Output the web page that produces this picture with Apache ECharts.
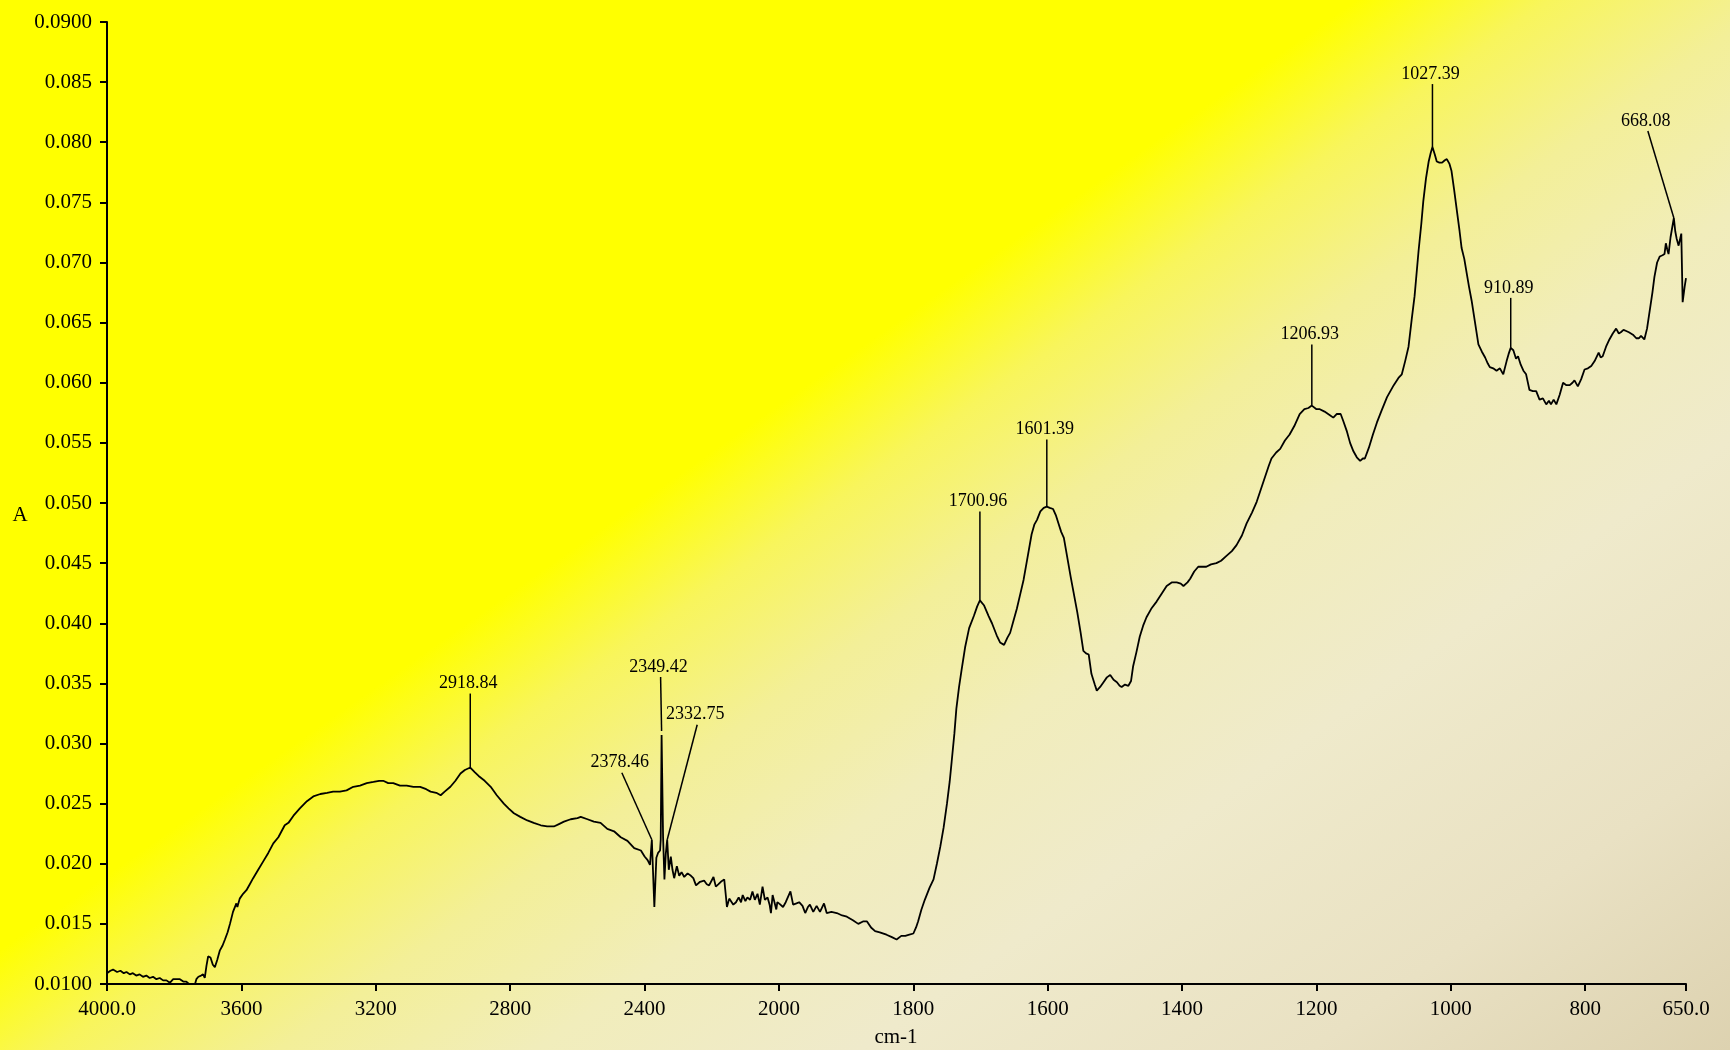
<!DOCTYPE html>
<html>
<head>
<meta charset="utf-8">
<title>FTIR spectrum</title>
<script src="https://cdn.jsdelivr.net/npm/echarts@6.0.0/dist/echarts.min.js"></script>
<style>
  html, body { margin: 0; padding: 0; }
  #chart {
    width: 1730px;
    height: 1050px;
    background: linear-gradient(145deg, #ffff00 0%, #ffff00 42%, #f8f55c 48%, #f3ef98 55%,
                #f1edbb 63%, #efeacb 73%, #e9e1c3 87%, #ddd2b0 100%);
  }
</style>
</head>
<body>
<div id="chart"></div>
<script>
// Absorbance spectrum, 4000-2000 cm-1 (compressed part of the axis)
const wavenumbersHigh = [
  4000, 3990, 3982, 3970, 3960, 3950, 3942, 3932, 3923, 3913,
  3903, 3893, 3883, 3873, 3863, 3853, 3843, 3833, 3823, 3813,
  3803, 3793, 3783, 3773, 3764, 3756, 3748, 3740, 3734, 3728,
  3720, 3714, 3709, 3704, 3699, 3692, 3685, 3679, 3672, 3664,
  3656, 3649, 3641, 3634, 3625, 3615, 3612, 3605, 3595, 3585,
  3575, 3565, 3550, 3535, 3520, 3505, 3490, 3471, 3460, 3445,
  3426, 3405, 3386, 3365, 3345, 3327, 3307, 3287, 3267, 3247,
  3227, 3207, 3190, 3178, 3163, 3148, 3128, 3108, 3088, 3068,
  3050, 3037, 3020, 3007, 2995, 2978, 2963, 2948, 2935, 2918.84,
  2905, 2894, 2876, 2858, 2840, 2819, 2805, 2789, 2770, 2749,
  2730, 2709, 2690, 2670, 2655, 2640, 2620, 2600, 2590, 2570,
  2551, 2531, 2511, 2491, 2471, 2451, 2431, 2411, 2400, 2391,
  2384, 2378.46, 2376, 2371, 2365, 2360, 2354, 2352, 2349.42, 2345,
  2341, 2337, 2332.75, 2328, 2322, 2317, 2312, 2304, 2297, 2290,
  2282, 2272, 2262, 2255, 2247, 2235, 2223, 2215, 2208, 2195,
  2188, 2180, 2173, 2163, 2158, 2155, 2148, 2143, 2136, 2128,
  2120, 2113, 2108, 2100, 2094, 2086, 2079, 2072, 2064, 2057,
  2049, 2042, 2034, 2028, 2024, 2019, 2014, 2008, 2005, 2000
];
const absorbanceHigh = [
  0.0109, 0.0111, 0.0112, 0.0110, 0.0111, 0.0109, 0.0110, 0.0108, 0.0109, 0.0107,
  0.0108, 0.0106, 0.0107, 0.0105, 0.0106, 0.0104, 0.0105, 0.0103, 0.0103, 0.0101,
  0.0104, 0.0104, 0.0104, 0.0102, 0.0102, 0.0100, 0.0097, 0.0098, 0.0104, 0.0106,
  0.0107, 0.0108, 0.0105, 0.0115, 0.0123, 0.0122, 0.0116, 0.0114, 0.0120, 0.0128,
  0.0132, 0.0137, 0.0143, 0.0150, 0.0160, 0.0167, 0.0164, 0.0171, 0.0175, 0.0178,
  0.0183, 0.0188, 0.0195, 0.0202, 0.0209, 0.0217, 0.0222, 0.0232, 0.0234, 0.0240,
  0.0246, 0.0252, 0.0256, 0.0258, 0.0259, 0.0260, 0.0260, 0.0261, 0.0264, 0.0265,
  0.0267, 0.0268, 0.0269, 0.0269, 0.0267, 0.0267, 0.0265, 0.0265, 0.0264, 0.0264,
  0.0262, 0.0260, 0.0259, 0.0257, 0.0260, 0.0264, 0.0269, 0.0275, 0.0278, 0.0280,
  0.0276, 0.0273, 0.0269, 0.0264, 0.0257, 0.0250, 0.0246, 0.0242, 0.0239, 0.0236,
  0.0234, 0.0232, 0.0231, 0.0231, 0.0233, 0.0235, 0.0237, 0.0238, 0.0239, 0.0237,
  0.0235, 0.0234, 0.0229, 0.0227, 0.0222, 0.0219, 0.0213, 0.0211, 0.0206, 0.0203,
  0.0199, 0.0220, 0.0219, 0.0164, 0.0205, 0.0209, 0.0211, 0.0220, 0.0307, 0.0222,
  0.0187, 0.0208, 0.0220, 0.0195, 0.0206, 0.0195, 0.0188, 0.0198, 0.0190, 0.0193,
  0.0189, 0.0192, 0.0190, 0.0188, 0.0182, 0.0185, 0.0186, 0.0183, 0.0182, 0.0189,
  0.0181, 0.0183, 0.0185, 0.0187, 0.0173, 0.0164, 0.0171, 0.0171, 0.0166, 0.0168,
  0.0172, 0.0168, 0.0174, 0.0169, 0.0172, 0.0170, 0.0177, 0.0170, 0.0175, 0.0166,
  0.0181, 0.0170, 0.0172, 0.0166, 0.0159, 0.0174, 0.0175, 0.0162, 0.0168, 0.0167
];

// Absorbance spectrum, 2000-650 cm-1 (expanded part of the axis)
const wavenumbersLow = [
  2000, 1994, 1990, 1983, 1979, 1974, 1970, 1965, 1961, 1957,
  1954, 1949, 1944, 1939, 1933, 1929, 1922, 1914, 1906, 1899,
  1890, 1882, 1875, 1869, 1863, 1857, 1850, 1840, 1832, 1825,
  1818, 1812, 1806, 1800, 1796, 1793, 1788, 1783, 1776, 1770,
  1765, 1760, 1755, 1750, 1746, 1743, 1739, 1736, 1732, 1728,
  1723, 1717, 1710, 1705, 1700.96, 1695, 1688, 1683, 1676, 1671,
  1665, 1660, 1656, 1651, 1646, 1641, 1636, 1630, 1624, 1620,
  1616, 1611, 1606, 1601.39, 1597, 1592, 1588, 1584, 1580, 1576,
  1571, 1566, 1561, 1556, 1551, 1547, 1543, 1539, 1535, 1530,
  1527, 1522, 1517, 1512, 1507, 1502, 1497, 1493, 1490, 1485,
  1480, 1476, 1473, 1468, 1463, 1458, 1453, 1446, 1438, 1430,
  1423, 1415, 1408, 1402, 1398, 1392, 1388, 1382, 1376, 1370,
  1364, 1357, 1349, 1342, 1334, 1326, 1319, 1311, 1304, 1296,
  1289, 1283, 1277, 1271, 1267, 1260, 1254, 1247, 1240, 1233,
  1225, 1218, 1212, 1206.93, 1200, 1195, 1188, 1180, 1175, 1170,
  1164, 1160, 1155, 1150, 1145, 1140, 1135, 1131, 1128, 1122,
  1116, 1110, 1103, 1095, 1085, 1078, 1073, 1068, 1063, 1058,
  1054, 1048, 1044, 1041, 1037, 1033, 1030, 1027.39, 1024, 1021,
  1017, 1013, 1009, 1006, 1002, 999, 995, 991, 987, 984,
  980, 977, 973, 969, 964, 959, 954, 949, 945, 942,
  937, 932, 927, 922, 917, 914, 910.89, 907, 903, 900,
  896, 892, 888, 883, 878, 873, 868, 863, 858, 854,
  851, 847, 843, 838, 833, 828, 823, 819, 816, 811,
  806, 801, 796, 791, 786, 780, 777, 774, 769, 764,
  759, 754, 750, 747, 743, 739, 735, 729, 724, 720,
  717, 712, 708, 704, 700, 697, 693, 689, 685, 682,
  680, 678, 676, 673, 671, 668.08, 666, 664, 661, 659,
  657, 655, 652, 650
];
const absorbanceLow = [
  0.0167, 0.0164, 0.0168, 0.0177, 0.0166, 0.0167, 0.0168, 0.0165, 0.0159, 0.0164,
  0.0166, 0.0160, 0.0165, 0.0160, 0.0167, 0.0159, 0.0160, 0.0159, 0.0157, 0.0156,
  0.0153, 0.0150, 0.0152, 0.0152, 0.0147, 0.0144, 0.0143, 0.0141, 0.0139, 0.0137,
  0.0140, 0.0140, 0.0141, 0.0142, 0.0147, 0.0152, 0.0162, 0.0170, 0.0180, 0.0187,
  0.0200, 0.0214, 0.0230, 0.0250, 0.0268, 0.0285, 0.0308, 0.0329, 0.0347, 0.0362,
  0.0380, 0.0396, 0.0406, 0.0414, 0.0419, 0.0415, 0.0406, 0.0400, 0.0390, 0.0384,
  0.0382, 0.0388, 0.0392, 0.0402, 0.0412, 0.0424, 0.0436, 0.0455, 0.0474, 0.0482,
  0.0486, 0.0493, 0.0496, 0.0497, 0.0496, 0.0495, 0.0490, 0.0483, 0.0476, 0.0471,
  0.0455, 0.0439, 0.0424, 0.0409, 0.0392, 0.0377, 0.0375, 0.0374, 0.0358, 0.0349,
  0.0344, 0.0347, 0.0351, 0.0355, 0.0357, 0.0353, 0.0351, 0.0348, 0.0347, 0.0349,
  0.0348, 0.0352, 0.0364, 0.0376, 0.0389, 0.0398, 0.0405, 0.0412, 0.0418, 0.0425,
  0.0431, 0.0434, 0.0434, 0.0433, 0.0431, 0.0434, 0.0437, 0.0443, 0.0447, 0.0447,
  0.0447, 0.0449, 0.0450, 0.0452, 0.0456, 0.0460, 0.0465, 0.0473, 0.0483, 0.0492,
  0.0501, 0.0511, 0.0521, 0.0531, 0.0537, 0.0542, 0.0545, 0.0552, 0.0557, 0.0564,
  0.0574, 0.0578, 0.0579, 0.0581, 0.0578, 0.0578, 0.0576, 0.0573, 0.0571, 0.0574,
  0.0574, 0.0568, 0.0560, 0.0550, 0.0543, 0.0538, 0.0535, 0.0537, 0.0537, 0.0546,
  0.0557, 0.0567, 0.0577, 0.0588, 0.0598, 0.0604, 0.0607, 0.0618, 0.0630, 0.0654,
  0.0672, 0.0710, 0.0732, 0.0751, 0.0770, 0.0784, 0.0791, 0.0796, 0.0790, 0.0784,
  0.0783, 0.0783, 0.0785, 0.0786, 0.0782, 0.0776, 0.0760, 0.0743, 0.0726, 0.0712,
  0.0703, 0.0693, 0.0680, 0.0668, 0.0650, 0.0632, 0.0626, 0.0621, 0.0616, 0.0613,
  0.0612, 0.0610, 0.0612, 0.0607, 0.0618, 0.0624, 0.0629, 0.0627, 0.0620, 0.0622,
  0.0615, 0.0610, 0.0607, 0.0594, 0.0593, 0.0593, 0.0586, 0.0587, 0.0582, 0.0585,
  0.0582, 0.0586, 0.0582, 0.0590, 0.0600, 0.0598, 0.0598, 0.0600, 0.0602, 0.0597,
  0.0603, 0.0611, 0.0612, 0.0614, 0.0618, 0.0625, 0.0621, 0.0622, 0.0630, 0.0636,
  0.0641, 0.0645, 0.0641, 0.0642, 0.0644, 0.0643, 0.0642, 0.0640, 0.0637, 0.0637,
  0.0639, 0.0636, 0.0645, 0.0660, 0.0675, 0.0688, 0.0700, 0.0705, 0.0706, 0.0707,
  0.0716, 0.0711, 0.0707, 0.0721, 0.0720, 0.0737, 0.0726, 0.0720, 0.0714, 0.0713,
  0.0724, 0.0667, 0.0680, 0.0687
];

// Picked peaks (cm-1)
const peakWavenumbers = [2918.84, 2378.46, 2349.42, 2332.75, 1700.96, 1601.39, 1206.93, 1027.39, 910.89, 668.08];

// Axis tick values
const xTicksLow = [1800, 1600, 1400, 1200, 1000, 800, 650];

// Leader-line geometry for each peak label, in pixels from the peak point
const leaderOffsets = [
  { dx: 0,   dy: -74 },
  { dx: -30, dy: -67 },
  { dx: -1,  dy: -58, gap: 4 },
  { dx: 30,  dy: -115 },
  { dx: 0,   dy: -89 },
  { dx: 0,   dy: -67 },
  { dx: 0,   dy: -61 },
  { dx: 0,   dy: -63 },
  { dx: 0,   dy: -50 },
  { dx: -26, dy: -87 }
];

const FONT = '"Liberation Serif", "Times New Roman", serif';
const INK = '#000';

const highData = wavenumbersHigh.map((w, i) => [w, absorbanceHigh[i]]);
const lowData = wavenumbersLow.map((w, i) => [w, absorbanceLow[i]]);

function absorbanceAt(w) {
  let i = wavenumbersHigh.indexOf(w);
  if (i >= 0) return absorbanceHigh[i];
  i = wavenumbersLow.indexOf(w);
  return absorbanceLow[i];
}

const peakHigh = [], peakLow = [];
peakWavenumbers.forEach((w, k) => {
  const item = [w, absorbanceAt(w), k];
  (w > 2000 ? peakHigh : peakLow).push(item);
});

function renderPeak(params, api) {
  const w = api.value(0);
  const k = api.value(2);
  const p = api.coord([w, api.value(1)]);
  const L = leaderOffsets[k];
  const x2 = p[0] + L.dx;
  const y2 = p[1] + L.dy;
  return {
    type: 'group',
    children: [
      {
        type: 'line',
        shape: { x1: p[0], y1: p[1] - (L.gap || 0), x2: x2, y2: y2 },
        style: { stroke: INK, lineWidth: 1.5 }
      },
      {
        type: 'text',
        style: {
          x: x2 - 2, y: y2 - 1,
          text: w.toFixed(2),
          align: 'center', verticalAlign: 'bottom',
          fontFamily: FONT, fontSize: 18, fill: INK
        }
      }
    ]
  };
}

const axisLineStyle = { lineStyle: { color: INK, width: 2 } };
const tickStyle = { show: true, length: 7, lineStyle: { color: INK, width: 2 } };
const labelBase = { color: INK, fontFamily: FONT, fontSize: 21, margin: 15 };

const option = {
  backgroundColor: 'transparent',
  animation: false,
  grid: [
    { left: 107, top: 22, width: 672, height: 962 },
    { left: 779, top: 22, width: 907, height: 962 }
  ],
  xAxis: [
    {
      gridIndex: 0, type: 'value', min: 2000, max: 4000, interval: 400, inverse: true,
      axisLine: axisLineStyle, axisTick: tickStyle, splitLine: { show: false },
      axisLabel: Object.assign({}, labelBase, {
        showMinLabel: true, showMaxLabel: true,
        formatter: v => (v === 4000 ? '4000.0' : String(v))
      })
    },
    {
      gridIndex: 1, type: 'value', min: 650, max: 2000, inverse: true,
      axisLine: axisLineStyle,
      axisTick: Object.assign({}, tickStyle, { customValues: xTicksLow }),
      splitLine: { show: false },
      axisLabel: Object.assign({}, labelBase, {
        customValues: xTicksLow,
        formatter: v => (v === 650 ? '650.0' : String(v))
      })
    }
  ],
  yAxis: [
    {
      gridIndex: 0, type: 'value', min: 0.01, max: 0.09, interval: 0.005,
      axisLine: Object.assign({ show: true }, axisLineStyle),
      axisTick: tickStyle, splitLine: { show: false },
      axisLabel: Object.assign({}, labelBase, {
        verticalAlign: 'middle', padding: [0, 0, 14, 0],
        showMinLabel: true, showMaxLabel: true,
        formatter: v => {
          const r = Math.round(v * 1000) / 1000;
          return (Math.abs(r - 0.01) < 1e-9 || Math.abs(r - 0.09) < 1e-9) ? r.toFixed(4) : r.toFixed(3);
        }
      })
    },
    { gridIndex: 1, type: 'value', min: 0.01, max: 0.09, show: false }
  ],
  graphic: [
    {
      type: 'text', x: 20, y: 515,
      style: { text: 'A', fontFamily: FONT, fontSize: 21, fill: INK, align: 'center', verticalAlign: 'middle' }
    },
    {
      type: 'text', x: 896, y: 1037,
      style: { text: 'cm-1', fontFamily: FONT, fontSize: 21, fill: INK, align: 'center', verticalAlign: 'middle' }
    }
  ],
  series: [
    {
      type: 'line', xAxisIndex: 0, yAxisIndex: 0, data: highData,
      showSymbol: false, silent: true, clip: true,
      lineStyle: { color: INK, width: 1.8 }
    },
    {
      type: 'line', xAxisIndex: 1, yAxisIndex: 1, data: lowData,
      showSymbol: false, silent: true, clip: true,
      lineStyle: { color: INK, width: 1.8 }
    },
    {
      type: 'custom', xAxisIndex: 0, yAxisIndex: 0, data: peakHigh,
      renderItem: renderPeak, silent: true, z: 5
    },
    {
      type: 'custom', xAxisIndex: 1, yAxisIndex: 1, data: peakLow,
      renderItem: renderPeak, silent: true, z: 5
    }
  ]
};

const chart = echarts.init(document.getElementById('chart'), null, { renderer: 'canvas' });
chart.setOption(option);
</script>
</body>
</html>
